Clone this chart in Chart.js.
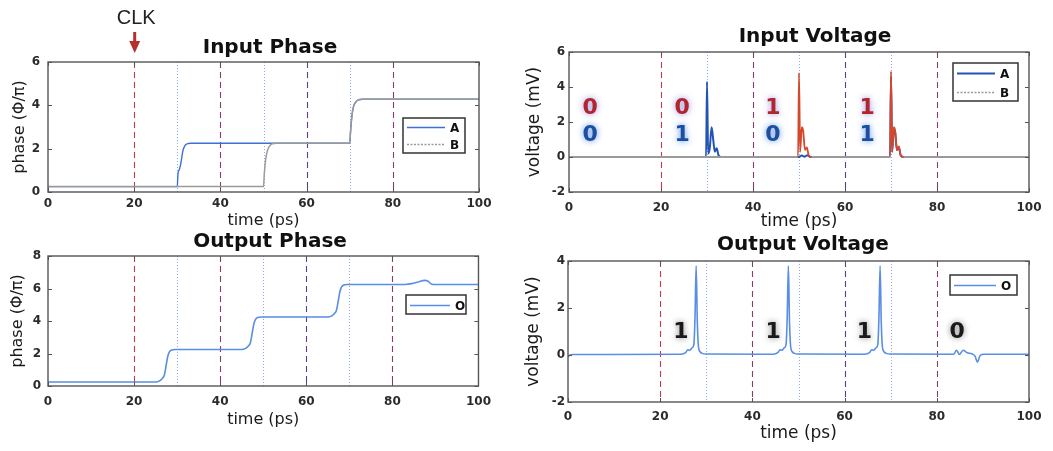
<!DOCTYPE html>
<html>
<head>
<meta charset="utf-8">
<script src="https://cdn.jsdelivr.net/npm/chart.js@4.4.1/dist/chart.umd.min.js"></script>
<style>
  html, body { margin: 0; padding: 0; background: #fff; width: 1053px; height: 451px; overflow: hidden; }
  body { position: relative; }
  canvas { position: absolute; }
</style>
</head>
<body>
<canvas id="inPhase"></canvas>
<canvas id="inVolt"></canvas>
<canvas id="outPhase"></canvas>
<canvas id="outVolt"></canvas>
<script>
// ---- simulation traces (time in ps) ----
const phaseTimeA = [0, 30, 30.15, 30.4, 30.8, 31.3, 31.8, 32.4, 33, 70, 70.2, 70.5, 70.9, 71.4, 72, 73, 100];
const phaseA     = [0.25, 0.25, 0.85, 1.0, 1.3, 1.9, 2.15, 2.23, 2.25, 2.25, 2.8, 3.5, 3.95, 4.15, 4.25, 4.28, 4.28];
const phaseTimeB = [0, 50, 50.2, 50.5, 50.9, 51.4, 52, 53, 70, 70.2, 70.5, 70.9, 71.4, 72, 73, 100];
const phaseB     = [0.25, 0.25, 0.9, 1.5, 1.9, 2.12, 2.22, 2.25, 2.25, 2.8, 3.5, 3.95, 4.15, 4.25, 4.28, 4.28];

const voltTimeA = [0, 29.8, 30.0, 30.25, 30.6, 31.0, 31.35, 31.7, 32.1, 32.5, 33.0, 49.9, 50.6, 51.2, 51.8, 52.4,
                   69.8, 70.0, 70.25, 70.6, 70.9, 71.3, 71.7, 72.1, 72.7, 100];
const voltA     = [0, 0, 4.3, 0.2, 0.5, 1.7, 1.0, 0.3, 0.5, 0.1, 0, 0, 0.08, 0.02, 0.1, 0,
                   0, 4.6, 0.3, 1.6, 1.4, 0.4, 0.55, 0.1, 0, 0];
const voltTimeB = [0, 49.8, 50.0, 50.25, 50.6, 50.9, 51.3, 51.7, 52.1, 52.7,
                   69.8, 70.0, 70.25, 70.6, 70.9, 71.3, 71.7, 72.1, 72.7, 100];
const voltB     = [0, 0, 4.8, 0.3, 1.7, 1.5, 0.4, 0.55, 0.1, 0,
                   0, 4.9, 0.3, 1.7, 1.5, 0.4, 0.6, 0.1, 0, 0];

const outPhaseTime = [0, 25, 25.8, 26.5, 27.0, 27.4, 27.8, 28.2, 28.7, 29.5,
                      45, 45.8, 46.5, 47.0, 47.4, 47.8, 48.2, 48.7, 49.5,
                      65, 65.8, 66.5, 67.0, 67.4, 67.8, 68.2, 68.7, 69.5,
                      83, 84.5, 86, 87.5, 88.3, 88.9, 89.5, 100];
const outPhase     = [0.25, 0.25, 0.3, 0.45, 0.65, 1.2, 1.8, 2.1, 2.22, 2.25,
                      2.25, 2.3, 2.45, 2.65, 3.2, 3.8, 4.1, 4.22, 4.25,
                      4.25, 4.3, 4.45, 4.65, 5.2, 5.8, 6.1, 6.22, 6.25,
                      6.25, 6.3, 6.4, 6.5, 6.45, 6.3, 6.25, 6.25];

const outVoltTime = [0, 0.4, 1, 24.5,
                     25.5, 26.0, 26.4, 26.9, 27.3, 27.55, 27.8, 28.05, 28.3, 28.6, 29.1, 30, 44.5,
                     45.5, 46.0, 46.4, 46.9, 47.3, 47.55, 47.8, 48.05, 48.3, 48.6, 49.1, 50, 64.4,
                     65.4, 65.9, 66.3, 66.8, 67.2, 67.45, 67.7, 67.95, 68.2, 68.5, 69.0, 70,
                     83.6, 84.3, 84.9, 85.7, 86.6, 87.6, 88.3, 88.8, 89.4, 90.2, 100];
const outVolt     = [-0.08, 0.0, 0.02, 0.03,
                     0.1, 0.22, 0.2, 0.3, 0.45, 1.6, 3.8, 1.4, 0.35, 0.15, 0.07, 0.04, 0.03,
                     0.1, 0.22, 0.2, 0.3, 0.45, 1.6, 3.8, 1.4, 0.35, 0.15, 0.07, 0.04, 0.03,
                     0.1, 0.22, 0.2, 0.3, 0.45, 1.6, 3.8, 1.4, 0.35, 0.15, 0.07, 0.04,
                     0.03, 0.2, 0.02, 0.2, 0.1, 0.05, -0.05, -0.3, -0.02, 0.03, 0.03];

// clock edges and input arrival times
const clockTimes = [20, 40, 60, 80];
const inputTimes = [30, 50, 70];

// logic values written in each clock period
const bitTimes    = [4.6, 24.6, 44.3, 64.8];
const bitsB       = ['0', '0', '1', '1'];
const bitsA       = ['0', '1', '0', '1'];
const bitRowB     = 2.8;
const bitRowA     = 1.25;
const outBitTimes = [24.5, 44.5, 64.3, 84.4];
const outBits     = ['1', '1', '1', '0'];
const outBitRow   = 0.95;

// ---- styling ----
const FAMILY = '"DejaVu Sans", sans-serif';
const TICK_COLOR = '#2b2b2b';
const clockColors = ['#c23a4c', '#8a3a6c', '#5c3c8c', '#8a3a6c'];
const BLUE = '#3d70d6';
const LIGHT_BLUE = '#5a8ee2';
const GRAY = '#9a9a9a';
const SPIKE_RED = '#d4472a';

const pts = (ts, vs) => ts.map((t, i) => ({x: t, y: vs[i]}));

const guidePlugin = {
  id: 'guides',
  beforeDatasetsDraw(chart) {
    const {ctx, chartArea: {top, bottom}, scales: {x}} = chart;
    ctx.save();
    ctx.lineWidth = 1.1;
    ctx.setLineDash([6, 4]);
    clockTimes.forEach((t, i) => {
      const px = Math.round(x.getPixelForValue(t)) + 0.5;
      ctx.strokeStyle = clockColors[i];
      ctx.beginPath(); ctx.moveTo(px, top); ctx.lineTo(px, bottom); ctx.stroke();
    });
    ctx.lineWidth = 1;
    ctx.setLineDash([1, 2]);
    ctx.strokeStyle = '#8eaae6';
    inputTimes.forEach(t => {
      const px = Math.round(x.getPixelForValue(t)) + 0.5;
      ctx.beginPath(); ctx.moveTo(px, top); ctx.lineTo(px, bottom); ctx.stroke();
    });
    ctx.restore();
  }
};

const framePlugin = {
  id: 'frame',
  afterDatasetsDraw(chart) {
    const {ctx, chartArea: {left, top, right, bottom}, scales: {x, y}} = chart;
    ctx.save();
    ctx.strokeStyle = '#555';
    ctx.lineWidth = 1.4;
    ctx.setLineDash([]);
    ctx.strokeRect(left, top, right - left, bottom - top);
    ctx.lineWidth = 1;
    ctx.beginPath();
    y.ticks.forEach(tk => {
      const py = Math.round(y.getPixelForValue(tk.value)) + 0.5;
      ctx.moveTo(left, py); ctx.lineTo(left + 4, py);
      ctx.moveTo(right, py); ctx.lineTo(right - 4, py);
    });
    x.ticks.forEach(tk => {
      const px = Math.round(x.getPixelForValue(tk.value)) + 0.5;
      ctx.moveTo(px, bottom); ctx.lineTo(px, bottom - 4);
      ctx.moveTo(px, top); ctx.lineTo(px, top + 4);
    });
    ctx.stroke();
    ctx.restore();
  }
};

const bitPlugin = {
  id: 'bits',
  afterDatasetsDraw(chart, args, opts) {
    if (!opts.rows) return;
    const {ctx, scales: {x, y}} = chart;
    ctx.save();
    ctx.font = 'bold 22px ' + FAMILY;
    ctx.textAlign = 'center';
    ctx.textBaseline = 'middle';
    opts.rows.forEach(row => {
      ctx.fillStyle = row.color;
      ctx.shadowColor = row.glow;
      ctx.shadowBlur = 6;
      row.times.forEach((t, i) => {
        ctx.fillText(row.bits[i], x.getPixelForValue(t), y.getPixelForValue(row.level));
      });
    });
    ctx.restore();
  }
};

const legendPlugin = {
  id: 'legendBox',
  afterDraw(chart, args, opts) {
    if (!opts.box) return;
    const {ctx} = chart;
    const [l, t, r, b] = opts.box;
    const sets = chart.data.datasets;
    ctx.save();
    ctx.fillStyle = '#fff';
    ctx.fillRect(l, t, r - l, b - t);
    ctx.strokeStyle = '#333';
    ctx.lineWidth = 1.5;
    ctx.strokeRect(l, t, r - l, b - t);
    const rowH = (b - t) / sets.length;
    sets.forEach((ds, i) => {
      const cy = Math.round(t + (i + 0.5) * rowH) + 0.5;
      ctx.strokeStyle = ds.borderColor;
      ctx.lineWidth = ds.legendWidth || ds.borderWidth;
      ctx.setLineDash(ds.legendDash || ds.borderDash || []);
      ctx.beginPath(); ctx.moveTo(l + 4, cy); ctx.lineTo(l + opts.lineLen, cy); ctx.stroke();
      ctx.setLineDash([]);
      ctx.fillStyle = '#111';
      ctx.font = 'bold 12px ' + FAMILY;
      ctx.textAlign = 'left';
      ctx.textBaseline = 'middle';
      ctx.fillText(ds.label, l + opts.lineLen + 5, cy + 1);
    });
    ctx.restore();
  }
};

const headingPlugin = {
  id: 'heading',
  afterDraw(chart, args, opts) {
    const {ctx} = chart;
    ctx.save();
    ctx.fillStyle = '#111';
    ctx.font = 'bold 20px ' + FAMILY;
    ctx.textAlign = 'center';
    ctx.textBaseline = 'middle';
    ctx.fillText(opts.text, opts.x, opts.y);
    if (opts.clock !== undefined) {
      const px = chart.scales.x.getPixelForValue(opts.clock);
      ctx.font = '20px "Liberation Sans", sans-serif';
      ctx.fillStyle = '#222';
      ctx.fillText('CLK', px + 2, 18);
      ctx.fillStyle = '#b5302a';
      ctx.fillRect(px - 1, 32, 3, 10);
      ctx.beginPath();
      ctx.moveTo(px - 5, 41); ctx.lineTo(px + 6, 41); ctx.lineTo(px + 0.5, 53); ctx.closePath();
      ctx.fill();
    }
    ctx.restore();
  }
};

function panel(id, o) {
  const canvas = document.getElementById(id);
  canvas.width = o.w; canvas.height = o.h;
  canvas.style.left = o.x + 'px';
  canvas.style.top = o.y + 'px';
  const L = o.area[0] - o.x, T = o.area[1] - o.y, R = o.area[2] - o.x, B = o.area[3] - o.y;
  const lh = o.titleSize * 1.2;
  const lb = o.legend;
  return new Chart(canvas, {
    type: 'line',
    data: {datasets: o.datasets},
    options: {
      responsive: false,
      animation: false,
      devicePixelRatio: 1,
      events: [],
      layout: {padding: {left: 0, top: T, right: o.w - R, bottom: 0}},
      elements: {point: {radius: 0}, line: {cubicInterpolationMode: 'monotone'}},
      scales: {
        x: {
          type: 'linear', min: 0, max: 100,
          afterFit: s => { s.height = o.h - B; },
          grid: {display: false, drawTicks: false}, border: {display: false},
          ticks: {stepSize: 20, padding: o.xTickPad, color: TICK_COLOR, maxRotation: 0, autoSkip: false,
                  font: {family: FAMILY, size: 12, weight: 'bold'}},
          title: {display: true, text: 'time (ps)', color: '#1a1a1a',
                  font: {family: FAMILY, size: o.titleSize, lineHeight: 1.2},
                  padding: {top: 0, bottom: o.h - (o.xTitleY - o.y) - lh / 2}}
        },
        y: {
          min: o.yMin, max: o.yMax,
          afterFit: s => { s.width = L; },
          grid: {display: false, drawTicks: false}, border: {display: false},
          ticks: {stepSize: 2, padding: o.yTickPad, color: TICK_COLOR,
                  font: {family: FAMILY, size: 12, weight: 'bold'}},
          title: {display: true, text: o.yTitle, color: '#1a1a1a',
                  font: {family: FAMILY, size: o.titleSize, lineHeight: 1.2},
                  padding: {top: (o.yTitleX - o.x) - lh / 2, bottom: 0}}
        }
      },
      plugins: {
        legend: {display: false},
        tooltip: {enabled: false},
        heading: {text: o.title, x: o.titleX - o.x, y: o.titleY - o.y, clock: o.clock},
        legendBox: {box: [lb[0] - o.x, lb[1] - o.y, lb[2] - o.x, lb[3] - o.y], lineLen: o.legendLine},
        bits: {rows: o.bitRows}
      }
    },
    plugins: [guidePlugin, framePlugin, bitPlugin, legendPlugin, headingPlugin]
  });
}

const spike = ctx => ctx.p0.parsed.y > 0.06 || ctx.p1.parsed.y > 0.06;

// B gets the lower order so it is painted over A where the two traces coincide
panel('inPhase', {
  x: 0, y: 0, w: 500, h: 232, area: [48, 62, 479, 192],
  yMin: 0, yMax: 6, yTitle: 'phase (Φ/π)', titleSize: 16,
  xTickPad: 5, yTickPad: 8, xTitleY: 221, yTitleX: 20,
  title: 'Input Phase', titleX: 270, titleY: 48, clock: clockTimes[0],
  legend: [403, 118, 465, 153], legendLine: 42,
  datasets: [
    {label: 'A', data: pts(phaseTimeA, phaseA), borderColor: BLUE, borderWidth: 1.4, order: 1},
    {label: 'B', data: pts(phaseTimeB, phaseB), borderColor: GRAY, borderWidth: 1.5,
     legendDash: [2, 1.5], legendWidth: 1.3, order: 0}
  ]
});

panel('inVolt', {
  x: 520, y: 0, w: 533, h: 234, area: [569, 52, 1029, 192],
  yMin: -2, yMax: 6, yTitle: 'voltage (mV)', titleSize: 17,
  xTickPad: 9, yTickPad: 4, xTitleY: 222, yTitleX: 535,
  title: 'Input Voltage', titleX: 815, titleY: 37,
  legend: [953, 63, 1018, 101], legendLine: 42,
  bitRows: [
    {times: bitTimes, bits: bitsB, level: bitRowB, color: '#b0262c', glow: 'rgba(140,130,230,0.9)'},
    {times: bitTimes, bits: bitsA, level: bitRowA, color: '#1d4f9e', glow: 'rgba(80,140,240,0.95)'}
  ],
  datasets: [
    {label: 'A', data: pts(voltTimeA, voltA), borderColor: '#2453b8', borderWidth: 2, order: 1},
    {label: 'B', data: pts(voltTimeB, voltB), borderColor: GRAY, borderWidth: 1.8,
     legendDash: [2, 1.5], legendWidth: 1.3, order: 0,
     segment: {borderColor: c => spike(c) ? SPIKE_RED : undefined}}
  ]
});

panel('outPhase', {
  x: 0, y: 226, w: 500, h: 205, area: [48, 256, 480, 386],
  yMin: 0, yMax: 8, yTitle: 'phase (Φ/π)', titleSize: 16,
  xTickPad: 9, yTickPad: 7, xTitleY: 420, yTitleX: 18,
  title: 'Output Phase', titleX: 270, titleY: 242,
  legend: [406, 295, 466, 314], legendLine: 44,
  datasets: [
    {label: 'O', data: pts(outPhaseTime, outPhase), borderColor: LIGHT_BLUE, borderWidth: 1.6}
  ]
});

panel('outVolt', {
  x: 520, y: 226, w: 533, h: 225, area: [568, 261, 1029, 402],
  yMin: -2, yMax: 4, yTitle: 'voltage (mV)', titleSize: 17,
  xTickPad: 8, yTickPad: 3, xTitleY: 434, yTitleX: 534,
  title: 'Output Voltage', titleX: 803, titleY: 245,
  legend: [950, 275, 1017, 295], legendLine: 46,
  bitRows: [
    {times: outBitTimes, bits: outBits, level: outBitRow, color: '#1a1a1a', glow: 'rgba(110,110,110,0.8)'}
  ],
  datasets: [
    {label: 'O', data: pts(outVoltTime, outVolt), borderColor: LIGHT_BLUE, borderWidth: 1.6}
  ]
});
</script>
</body>
</html>
